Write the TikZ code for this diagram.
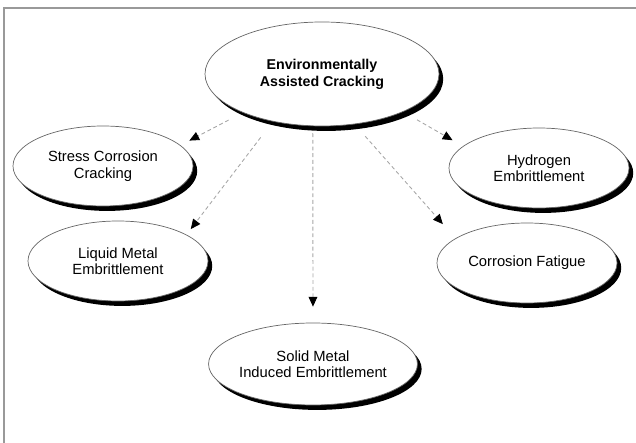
\documentclass[tikz,border=0pt]{standalone}
\usepackage{fontspec}
\setmainfont{Liberation Sans}
\usetikzlibrary{shapes.geometric,shadows,arrows.meta}
\begin{document}
\begin{tikzpicture}[
  every node/.style={font=\fontsize{8.4}{9.4}\selectfont},
  mech/.style={ellipse,draw=black!60,line width=0.4pt,fill=white,inner sep=0pt,
    minimum width=3.6cm,minimum height=1.6cm,align=center,
    drop shadow={shadow xshift=2.4pt,shadow yshift=-2.8pt,fill=black,opacity=1}},
  link/.style={draw=black!35,dashed,dash pattern=on 2.2pt off 1.6pt,line width=0.5pt,
    -{Triangle[length=5.6pt,width=5pt,color=black,fill=black]}}]
\useasboundingbox (0,0) rectangle (12.72,8.86);
% frame
\draw[black!40,line width=0.6pt] (12.72,8.70) -- (0.08,8.70) -- (0.08,0);
% root
\node[mech,minimum width=4.68cm,minimum height=2.08cm,font=\fontsize{8.1}{9.6}\selectfont\bfseries] (eac) at (6.44,7.38) {Environmentally\\Assisted Cracking};
% mechanisms
\node[mech] (scc) at (2.06,5.54) {Stress Corrosion\\Cracking};
\node[mech] (lme) at (2.36,3.64) {Liquid Metal\\Embrittlement};
\node[mech] (he) at (10.78,5.50) {Hydrogen\\Embrittlement};
\node[mech] (cf) at (10.54,3.60) {Corrosion Fatigue};
\node[mech,minimum width=3.66cm,minimum height=1.64cm] (sme) at (6.26,1.58) {Solid Metal\\Induced Embrittlement};
% links
\draw[link,shorten <=0.32cm,shorten >=0.2cm] (eac.206) -- (scc.15);
\draw[link,shorten <=0.40cm,shorten >=0.14cm] (eac.224) -- (lme.21);
\draw[link,shorten <=0.14cm,shorten >=0.32cm] (eac.260) -- (sme.90);
\draw[link,shorten <=0.32cm,shorten >=0.38cm] (eac.303) -- (cf.161);
\draw[link,shorten <=0.32cm,shorten >=0.24cm] (eac.335) -- (he.164);
\end{tikzpicture}
\end{document}
